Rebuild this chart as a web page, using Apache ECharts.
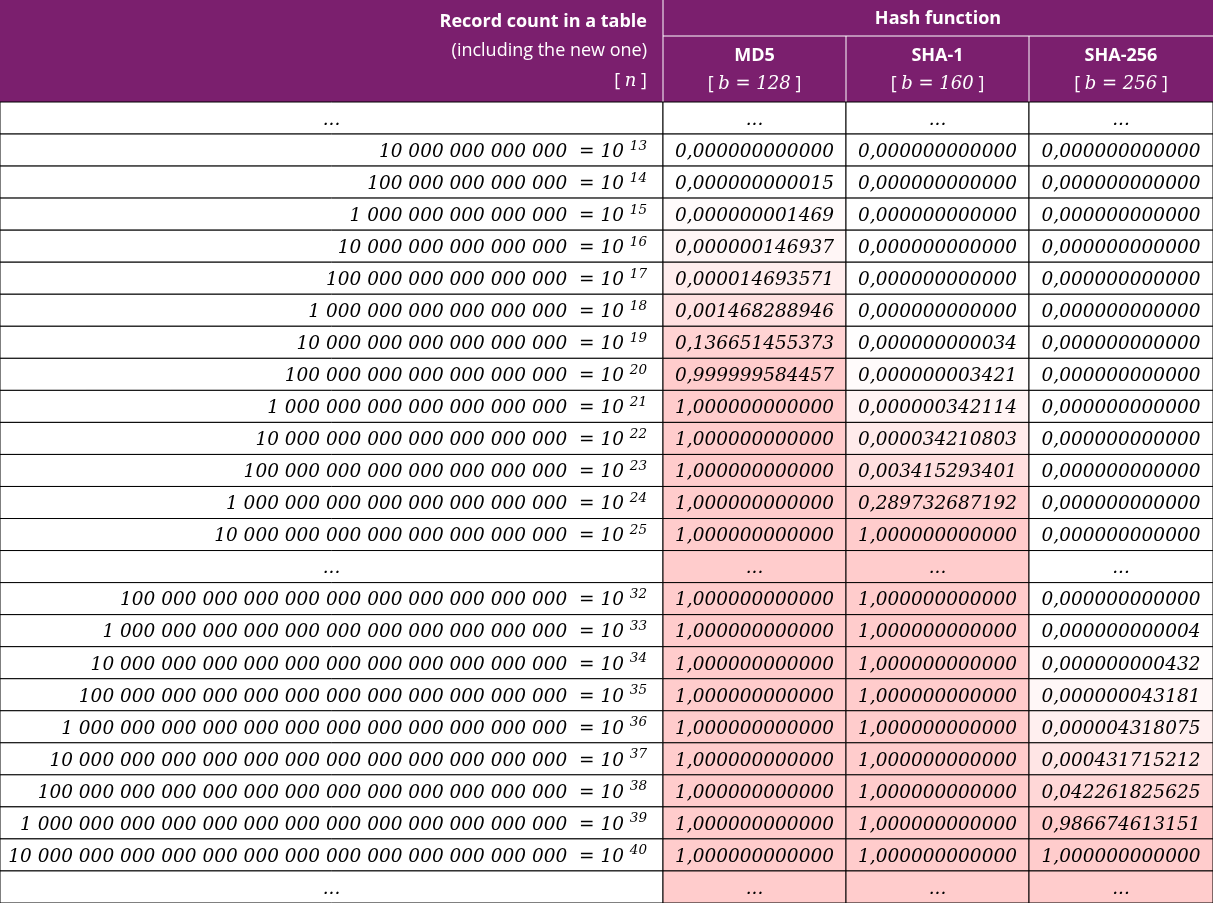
<!DOCTYPE html>
<html>
<head>
<meta charset="utf-8">
<script src="https://cdn.jsdelivr.net/npm/echarts@6/dist/echarts.min.js"></script>
<style>html,body{margin:0;padding:0;background:#fff}#chart{width:1213px;height:903px}</style>
</head>
<body>
<div id="chart"></div>
<script>
// row exponents, null = "..." row
var exponents = [null, 13, 14, 15, 16, 17, 18, 19, 20, 21, 22, 23, 24, 25, null, 32, 33, 34, 35, 36, 37, 38, 39, 40, null];
var hashNames = ['MD5', 'SHA-1', 'SHA-256'];
var hashBits = [128, 160, 256];
var md5 = ['...', '0,000000000000', '0,000000000015', '0,000000001469', '0,000000146937', '0,000014693571', '0,001468288946', '0,136651455373', '0,999999584457', '1,000000000000', '1,000000000000', '1,000000000000', '1,000000000000', '1,000000000000', '...', '1,000000000000', '1,000000000000', '1,000000000000', '1,000000000000', '1,000000000000', '1,000000000000', '1,000000000000', '1,000000000000', '1,000000000000', '...'];
var sha1 = ['...', '0,000000000000', '0,000000000000', '0,000000000000', '0,000000000000', '0,000000000000', '0,000000000000', '0,000000000034', '0,000000003421', '0,000000342114', '0,000034210803', '0,003415293401', '0,289732687192', '1,000000000000', '...', '1,000000000000', '1,000000000000', '1,000000000000', '1,000000000000', '1,000000000000', '1,000000000000', '1,000000000000', '1,000000000000', '1,000000000000', '...'];
var sha256 = ['...', '0,000000000000', '0,000000000000', '0,000000000000', '0,000000000000', '0,000000000000', '0,000000000000', '0,000000000000', '0,000000000000', '0,000000000000', '0,000000000000', '0,000000000000', '0,000000000000', '0,000000000000', '...', '0,000000000000', '0,000000000004', '0,000000000432', '0,000000043181', '0,000004318075', '0,000431715212', '0,042261825625', '0,986674613151', '1,000000000000', '...'];

// layout
var W = 1213, H = 903, HEAD = 102, HEAD1 = 36;
var colEdges = [0, 663, 846, 1029, 1213];
var rowH = (H - HEAD) / exponents.length;
var purple = '#7b1f6e';
var numFont = '"DejaVu Serif", serif';
var headFont = '"Open Sans", "Liberation Sans", sans-serif';

function num(s) { return s === '...' ? null : parseFloat(s.replace(',', '.')); }
function tint(p) {
  if (!p) return '#ffffff';
  var t = Math.max(0, Math.min(1, (Math.log10(p) + 12) / 12));
  t = t * t;
  var g = Math.round(255 - 51 * t);
  return 'rgb(255,' + g + ',' + g + ')';
}
function countLabel(e) {
  var s = '1' + new Array(e + 1).join('0');
  var out = '';
  for (var i = 0; i < s.length; i++) {
    out += s[i];
    var rest = s.length - 1 - i;
    if (rest > 0 && rest % 3 === 0) out += ' ';
  }
  return '{n|' + out + '  = 10 }{sup|' + e + '}';
}

var cols = [md5, sha1, sha256];
var data = [];
exponents.forEach(function (e, r) {
  data.push([0, r, e === null ? '{n|...}' : countLabel(e), '#ffffff']);
  cols.forEach(function (col, c) {
    var v = col[r];
    var p = num(v);
    if (p === null) p = r > 0 ? num(col[r - 1]) : 0;
    data.push([c + 1, r, v, tint(p)]);
  });
});

function headText(x, y, text, bold, align) {
  return { type: 'text', x: x, y: y, style: {
    text: text, fill: '#fff', fontFamily: headFont, fontSize: 18, fontWeight: bold ? 'bold' : 'normal',
    align: align, verticalAlign: 'middle',
    rich: { i: { fontFamily: numFont, fontStyle: 'italic', fontSize: 18, fill: '#fff' } }
  } };
}

var chart = echarts.init(document.getElementById('chart'));
var header = [
  { type: 'rect', shape: { x: 0, y: 0, width: W, height: HEAD }, style: { fill: purple } },
  { type: 'line', shape: { x1: colEdges[1], y1: 0, x2: colEdges[1], y2: HEAD }, style: { stroke: '#fff', lineWidth: 1 } },
  { type: 'line', shape: { x1: colEdges[1], y1: HEAD1, x2: W, y2: HEAD1 }, style: { stroke: '#fff', lineWidth: 1 } },
  headText(647, 22, 'Record count in a table', true, 'right'),
  headText(647, 51, '(including the new one)', false, 'right'),
  headText(647, 81, '[ {i|n} ]', false, 'right'),
  headText((colEdges[1] + W) / 2, 19, 'Hash function', true, 'center')
];
hashNames.forEach(function (n, i) {
  var cx = (colEdges[i + 1] + colEdges[i + 2]) / 2;
  if (i > 0) header.push({ type: 'line', shape: { x1: colEdges[i + 1], y1: HEAD1, x2: colEdges[i + 1], y2: HEAD }, style: { stroke: '#fff', lineWidth: 1 } });
  header.push(headText(cx, 56, n, true, 'center'));
  header.push(headText(cx, 84, '[ {i|b = ' + hashBits[i] + '} ]', false, 'center'));
});

chart.setOption({
  animation: false,
  grid: { left: 0, right: 0, top: 0, bottom: 0 },
  xAxis: { type: 'value', min: 0, max: W, show: false },
  yAxis: { type: 'value', min: 0, max: H, inverse: true, show: false },
  graphic: header,
  series: [{
    type: 'custom',
    data: data,
    renderItem: function (params, api) {
      var c = api.value(0), r = api.value(1);
      var item = data[params.dataIndex];
      var p0 = api.coord([colEdges[c], HEAD + r * rowH]);
      var p1 = api.coord([colEdges[c + 1], HEAD + (r + 1) * rowH]);
      var w = p1[0] - p0[0], h = p1[1] - p0[1];
      var isDots = item[2] === '...' || item[2] === '{n|...}';
      var tx = (c === 0 && !isDots) ? p1[0] - 16 : (p0[0] + p1[0]) / 2;
      return {
        type: 'group',
        children: [
          { type: 'rect', shape: { x: p0[0], y: p0[1], width: w, height: h }, style: { fill: item[3], stroke: '#000', lineWidth: 1 } },
          { type: 'text', x: tx, y: (p0[1] + p1[1]) / 2 + 2, style: {
            text: item[2],
            align: (c === 0 && !isDots) ? 'right' : 'center', verticalAlign: 'middle',
            fontFamily: numFont, fontStyle: 'italic', fontSize: 18.5, fill: '#000',
            rich: {
              n: { fontFamily: numFont, fontStyle: 'italic', fontSize: 18.5, fill: '#000' },
              sup: { fontFamily: numFont, fontStyle: 'italic', fontSize: 13.5, fill: '#000', padding: [0, 0, 12, 0] }
            }
          } }
        ]
      };
    }
  }]
});
</script>
</body>
</html>
